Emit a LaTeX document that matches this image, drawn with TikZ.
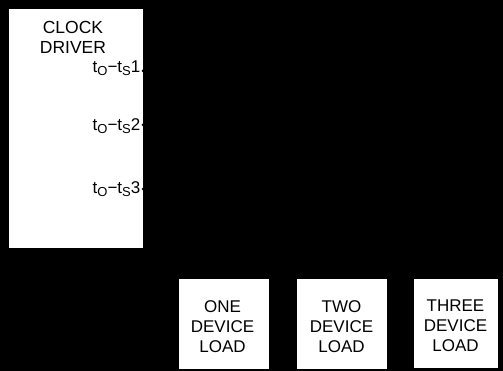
\documentclass[tikz,border=0pt]{standalone}
\usepackage{fontspec}
\setmainfont{Liberation Sans}
\tikzset{
  box/.style={fill=white, draw=black, line width=0.5pt, inner sep=0pt},
  lbl/.style={font=\fontsize{17}{20}\selectfont, align=center, text=black, inner sep=0pt, anchor=north},
  pinlbl/.style={font=\fontsize{17}{18}\selectfont, anchor=base east, inner sep=0pt, text=black},
  pindot/.style={circle, fill=black, inner sep=0pt, minimum size=3pt}
}
\newcommand{\sbx}[1]{\raisebox{-2.8pt}{\fontsize{13}{13}\selectfont #1}}
\begin{document}
\begin{tikzpicture}[x=1pt, y=-1pt]
\fill[black] (0,0) rectangle (503,371);
\useasboundingbox (0,0) rectangle (503,371);
% clock driver
\node[box, minimum width=135pt, minimum height=240pt, anchor=north west] (drv) at (8,8) {};
\node[lbl, font=\fontsize{17.5}{20.5}\selectfont] (drvtxt) at (73,21) {CLOCK\\DRIVER};
% pins
\node[pindot] (p1) at (143,71) {};
\node[pindot] (p2) at (143,125) {};
\node[pindot] (p3) at (143,189) {};
\node[pinlbl] (l1) at (140.5,72.5) {t\sbx{O}−t\sbx{S}1};
\node[pinlbl] (l2) at (140.5,130.5) {t\sbx{O}−t\sbx{S}2};
\node[pinlbl] (l3) at (140.5,193.5) {t\sbx{O}−t\sbx{S}3};
% loads
\node[box, minimum width=91pt, minimum height=91pt, anchor=north west] (one) at (178,278) {};
\node[box, minimum width=91pt, minimum height=91pt, anchor=north west] (two) at (296,278) {};
\node[box, minimum width=85pt, minimum height=90pt, anchor=north west] (three) at (413,278) {};
\node[lbl] (onet) at (222.5,300) {ONE\\DEVICE\\LOAD};
\node[lbl] (twot) at (341.5,300) {TWO\\DEVICE\\LOAD};
\node[lbl] (threet) at (455.5,300) {THREE\\DEVICE\\LOAD};
\end{tikzpicture}
\end{document}
